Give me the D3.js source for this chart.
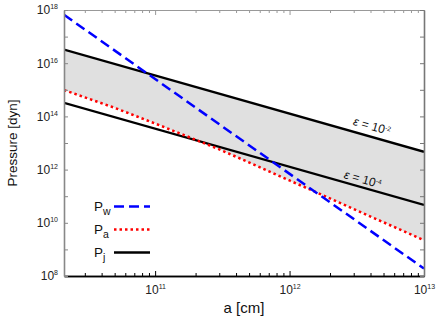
<!DOCTYPE html>
<html>
<head>
<meta charset="utf-8">
<script src="https://cdn.jsdelivr.net/npm/d3@7"></script>
<style>
  body { margin: 0; background: #fff; }
  svg text { font-family: "Liberation Sans", Arial, Helvetica, sans-serif; }
</style>
</head>
<body>
<div id="chart"></div>
<script>
// wind pressure (straight power law)
const aW = [2.1e10, 1e13],
      pW = [6.6e17, 1.9e8];
// jet pressure, two efficiencies
const aJ = [2.1e10, 1e13],
      pJhigh = [3.24e16, 4.68e12],   // eps = 1e-2
      pJlow = [3.24e14, 4.68e10];    // eps = 1e-4
// ambient pressure (slightly curved)
const aA = [2.1e10, 5e10, 1e11, 3e11, 1e12, 3e12, 1e13],
      pA = [9.8e14, 2.1e14, 5.4e13, 5.8e12, 3.9e11, 3.3e10, 2.2e9];

const yDecades = d3.range(8, 19),
      xDecades = [11, 12, 13];

const margin = {top: 10, right: 12, bottom: 47, left: 64},
      W = 436, H = 323,
      width = W - margin.left - margin.right,
      height = H - margin.top - margin.bottom;

const svg = d3.select('#chart').append('svg')
    .attr("width", W).attr("height", H);
const g = svg.append("g")
    .attr("transform", "translate(" + margin.left + "," + margin.top + ")");

const x = d3.scaleLog().domain([2.1e10, 1e13]).range([0, width]);
const y = d3.scaleLog().domain([1e8, 1e18]).range([height, 0]);

svg.append("defs").append("clipPath").attr("id", "clip")
    .append("rect").attr("width", width).attr("height", height);

const plot = g.append("g").attr("clip-path", "url(#clip)");

// shaded band between upper jet line and ambient pressure
const bandPts = aJ.map((a, i) => [x(a), y(pJhigh[i])])
    .concat(aA.map((a, i) => [x(a), y(pA[i])]).reverse());
plot.append("path")
    .attr("d", d3.line()(bandPts) + "Z")
    .style("fill", "#e0e0e0");

const line = d3.line().x(d => x(d[0])).y(d => y(d[1]));
const zip = (a, p) => a.map((v, i) => [v, p[i]]);

plot.append("path").attr("d", line(zip(aJ, pJhigh)))
    .style("fill", "none").style("stroke", "#000").style("stroke-width", 2.3);
plot.append("path").attr("d", line(zip(aJ, pJlow)))
    .style("fill", "none").style("stroke", "#000").style("stroke-width", 2.3);
plot.append("path").attr("d", line(zip(aA, pA)))
    .style("fill", "none").style("stroke", "#ff0000").style("stroke-width", 2.5)
    .style("stroke-dasharray", "2.5,3");
plot.append("path").attr("d", line(zip(aW, pW)))
    .style("fill", "none").style("stroke", "#0000ff").style("stroke-width", 2.5)
    .style("stroke-dasharray", "10,5");

// axes
const xMinor = x.ticks().filter(t => Math.abs(Math.log10(t) % 1) > 1e-6);
const xMajor = xDecades.map(e => Math.pow(10, e));
const yMajor = yDecades.map(e => Math.pow(10, e));

function styleAxis(sel, col, w) {
    sel.select(".domain").style("stroke", col).style("stroke-width", w);
    sel.selectAll(".tick line").style("stroke", col).style("stroke-width", 1);
}

const bottomMinor = g.append("g").attr("transform", "translate(0," + height + ")")
    .call(d3.axisBottom(x).tickValues(xMinor).tickSize(-3).tickSizeOuter(0).tickFormat(""));
styleAxis(bottomMinor, "#000", 1.5);
const bottomMajor = g.append("g").attr("transform", "translate(0," + height + ")")
    .call(d3.axisBottom(x).tickValues(xMajor).tickSize(-5).tickSizeOuter(0).tickPadding(9));
styleAxis(bottomMajor, "#000", 1.5);
bottomMajor.selectAll(".tick text").text(null)
    .style("font-size", "12px").style("fill", "#222")
    .each(function(d) {
        const t = d3.select(this);
        t.append("tspan").text("10");
        t.append("tspan").attr("dy", "-5").style("font-size", "7px").text(Math.round(Math.log10(d)));
    });

const topMinor = g.append("g")
    .call(d3.axisTop(x).tickValues(xMinor).tickSize(-3).tickSizeOuter(0).tickFormat(""));
styleAxis(topMinor, "#999", 1);
const topMajor = g.append("g")
    .call(d3.axisTop(x).tickValues(xMajor).tickSize(-5).tickSizeOuter(0).tickFormat(""));
styleAxis(topMajor, "#999", 1);

const left = g.append("g")
    .call(d3.axisLeft(y).tickValues(yMajor).tickSize(-4).tickSizeOuter(0).tickPadding(6));
styleAxis(left, "#888", 1.6);
left.selectAll(".tick text").text(null)
    .style("font-size", "12px").style("fill", "#222")
    .each(function(d) {
        const e = Math.round(Math.log10(d));
        if (e % 2) return;
        const t = d3.select(this);
        t.append("tspan").text("10");
        t.append("tspan").attr("dy", "-5").style("font-size", "7px").text(e);
    });

const right = g.append("g").attr("transform", "translate(" + width + ",0)")
    .call(d3.axisRight(y).tickValues(yMajor).tickSize(-4).tickSizeOuter(0).tickFormat(""));
styleAxis(right, "#777", 1.6);

// axis titles
g.append("text")
    .attr("x", width / 2).attr("y", height + 37)
    .attr("text-anchor", "middle")
    .style("font-size", "15px").style("fill", "#111")
    .text("a [cm]");
g.append("text")
    .attr("transform", "translate(" + (12 - margin.left) + "," + (height / 2) + ") rotate(-90)")
    .attr("text-anchor", "middle").attr("dy", "0.35em")
    .style("font-size", "13.5px").style("fill", "#111")
    .text("Pressure [dyn]");

// epsilon labels along the jet lines
const angle = Math.atan2(y(pJhigh[1]) - y(pJhigh[0]), x(aJ[1]) - x(aJ[0])) * 180 / Math.PI;
function jetAt(a, p) {
    const t = (Math.log10(a) - Math.log10(aJ[0])) / (Math.log10(aJ[1]) - Math.log10(aJ[0]));
    return Math.pow(10, Math.log10(p[0]) + t * (Math.log10(p[1]) - Math.log10(p[0])));
}
[[4.1e12, pJhigh, "-2", 11], [3.5e12, pJlow, "-4", 8.5]].forEach(function(l) {
    const px = x(l[0]), py = y(jetAt(l[0], l[1])) - l[3];
    const t = g.append("text")
        .attr("transform", "translate(" + px + "," + py + ") rotate(" + angle + ")")
        .attr("text-anchor", "middle").attr("dy", "0.35em")
        .style("font-size", "12px").style("fill", "#111");
    t.append("tspan").style("font-style", "italic").text("ε");
    t.append("tspan").text(" = 10");
    t.append("tspan").attr("dy", "-4").style("font-size", "6.5px").text(l[2]);
});

// legend
const legendItems = [
    {sub: "w", color: "#0000ff", dash: "10,5", w: 2.5},
    {sub: "a", color: "#ff0000", dash: "2.5,3", w: 2.5},
    {sub: "j", color: "#000", dash: null, w: 2.3}
];
const legend = g.selectAll(".legend").data(legendItems).enter().append("g")
    .attr("class", "legend")
    .attr("transform", (d, i) => "translate(0," + (196.5 + i * 23) + ")");
legend.append("text")
    .attr("x", 30).attr("y", 4.5)
    .style("font-size", "13.5px").style("fill", "#111")
    .each(function(d) {
        const t = d3.select(this);
        t.append("tspan").text("P");
        t.append("tspan").attr("dy", "3.5").style("font-size", "10.5px").text(d.sub);
    });
legend.append("line")
    .attr("x1", 50).attr("x2", 86).attr("y1", 0).attr("y2", 0)
    .style("stroke", d => d.color).style("stroke-width", d => d.w)
    .style("stroke-dasharray", d => d.dash);
</script>
</body>
</html>
